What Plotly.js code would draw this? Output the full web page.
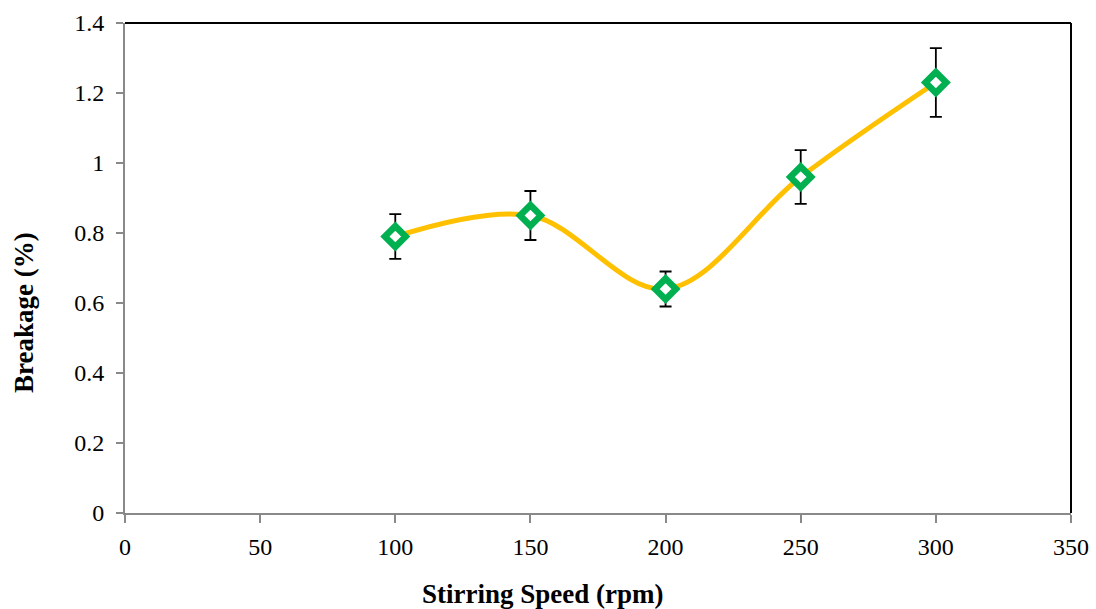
<!DOCTYPE html>
<html>
<head>
<meta charset="utf-8">
<script src="https://cdn.plot.ly/plotly-3.0.1.min.js"></script>
<style>html,body{margin:0;padding:0;background:#fff;}#chart{width:1096px;height:609px;}</style>
</head>
<body>
<div id="chart"></div>
<script>
const speeds = [100, 150, 200, 250, 300];
const breakage = [0.79, 0.85, 0.64, 0.96, 1.23];
const errors = [0.064, 0.07, 0.05, 0.077, 0.098];
const xTitle = 'Stirring Speed (rpm)';
const yTitle = 'Breakage (%)';

const font = "'Liberation Serif', 'Times New Roman', serif";

const traces = [
  {
    x: speeds, y: breakage, type: 'scatter', mode: 'lines',
    line: {shape: 'spline', smoothing: 1, color: '#FFC000', width: 5},
    hoverinfo: 'skip', showlegend: false
  },
  {
    x: speeds, y: breakage, type: 'scatter', mode: 'markers',
    marker: {symbol: 'diamond', size: 16, color: '#FFFFFF', line: {color: '#00B050', width: 6.5}},
    error_y: {type: 'data', array: errors, visible: true, color: '#000000', thickness: 1.8, width: 6},
    showlegend: false
  }
];

const layout = {
  width: 1096, height: 609,
  margin: {l: 125, r: 25, t: 23, b: 96},
  paper_bgcolor: '#fff', plot_bgcolor: '#fff',
  font: {family: font, size: 24, color: '#000'},
  showlegend: false,
  xaxis: {
    range: [0, 350], tickvals: [0, 50, 100, 150, 200, 250, 300, 350],
    showgrid: false, zeroline: false, showline: true, linecolor: '#898989', linewidth: 2,
    ticks: 'outside', ticklen: 8, tickwidth: 2, tickcolor: '#898989',
    ticklabelstandoff: 3,
    tickfont: {family: font, size: 24, color: '#000'}
  },
  yaxis: {
    range: [0, 1.4], tickvals: [0, 0.2, 0.4, 0.6, 0.8, 1, 1.2, 1.4],
    ticktext: ['0', '0.2', '0.4', '0.6', '0.8', '1', '1.2', '1.4'],
    showgrid: false, zeroline: false, showline: true, linecolor: '#898989', linewidth: 2,
    ticks: 'outside', ticklen: 7, tickwidth: 2, tickcolor: '#898989',
    ticklabelstandoff: 7,
    tickfont: {family: font, size: 24, color: '#000'}
  },
  annotations: [
    {text: '<b>' + xTitle + '</b>', xref: 'paper', yref: 'paper', x: 0.441, y: -0.165,
     xanchor: 'center', yanchor: 'middle', showarrow: false,
     font: {family: font, size: 27, color: '#000'}},
    {text: '<b>' + yTitle + '</b>', xref: 'paper', yref: 'paper', x: -0.1068, y: 0.41,
     xanchor: 'center', yanchor: 'middle', showarrow: false, textangle: -90,
     font: {family: font, size: 27, color: '#000'}}
  ],
  shapes: [
    {type: 'line', xref: 'paper', yref: 'paper', x0: 0, x1: 1, y0: 1, y1: 1, line: {color: '#000', width: 2}},
    {type: 'line', xref: 'paper', yref: 'paper', x0: 1, x1: 1, y0: 0, y1: 1, line: {color: '#000', width: 2}}
  ]
};

Plotly.newPlot('chart', traces, layout, {displayModeBar: false, staticPlot: true});
</script>
</body>
</html>
